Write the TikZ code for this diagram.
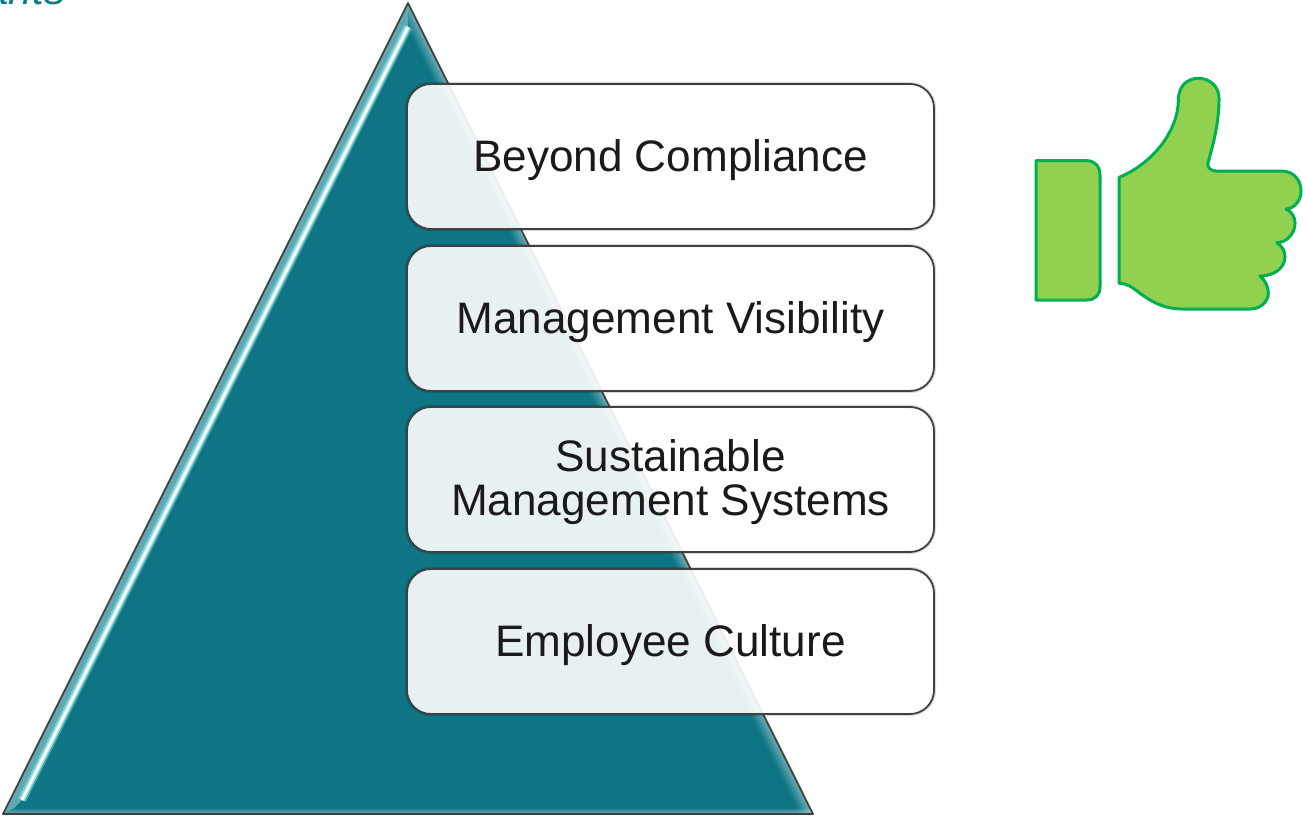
\documentclass[tikz,border=0pt]{standalone}
\usepackage{fontspec}
\setmainfont{Liberation Sans}
\definecolor{pyrteal}{HTML}{0E7585}
\definecolor{pyrband}{HTML}{5FA9B4}
\definecolor{pyrglow}{HTML}{A5E6EE}
\definecolor{boxline}{HTML}{404040}
\definecolor{boxtext}{HTML}{1A1A1A}
\definecolor{thumbfill}{HTML}{92D050}
\definecolor{thumbline}{HTML}{00B050}
\definecolor{cornertext}{HTML}{0E7C86}
\tikzset{
  levelbox/.style={rectangle,draw=boxline,line width=1pt,fill=white,fill opacity=0.9,
    text opacity=1,text=boxtext,rounded corners=0.48cm,minimum width=10.54cm,minimum height=2.9cm,
    align=center,font=\fontsize{25.1}{25}\selectfont,
    execute at begin node={\rule{0pt}{22.2pt}},
    preaction={draw=black,draw opacity=0.15,line width=2.4pt}},
  thumbpart/.style={draw=thumbline,fill=thumbfill,line width=1.7pt,line join=round}
}
\begin{document}
\begin{tikzpicture}
      \useasboundingbox (0,0) rectangle (26.06,-16.34);

      % clipped word in the corner
      \begin{scope}
      \clip (0,0) rectangle (26.06,-16.34);
      \node[anchor=base east,inner sep=0pt,text=cornertext,font=\fontsize{24}{24}\selectfont\itshape] (corner) at (1.31,-0.1){ants};
      \end{scope}

      % pyramid
      \coordinate (top) at (8.16,-0.06);
      \coordinate (left) at (0.06,-16.28);
      \coordinate (right) at (16.26,-16.28);
      \fill[pyrteal] (top) -- (left) -- (right) -- cycle;
      \begin{scope}
      \clip (top) -- (left) -- (right) -- cycle;
      \draw[white,opacity=0.06,line width=0.44cm] (top) -- (right);
      \draw[white,opacity=0.07,line width=0.36cm] (top) -- (right);
      \draw[white,opacity=0.08,line width=0.28cm] (top) -- (right);
      \draw[white,opacity=0.09,line width=0.20cm] (top) -- (right);
      \draw[white,opacity=0.10,line width=0.12cm] (top) -- (right);
      \draw[white,opacity=0.15,line width=0.20cm] (left) -- (right);
      \draw[white,opacity=0.15,line width=0.12cm] (left) -- (right);
      \fill[pyrband] (top) -- (8.16,-0.54) -- (0.44,-16.0) -- (0.28,-16.16) -- (left) -- cycle;
      \draw[pyrglow,opacity=0.45,line width=0.17cm] (8.16,-0.54) -- (0.44,-16.0);
      \draw[pyrglow,line width=0.10cm] (8.16,-0.54) -- (0.44,-16.0);
      \draw[white,line width=0.045cm] (8.16,-0.54) -- (0.44,-16.0);
      \end{scope}
      \draw[boxline,line width=1pt,line join=round] (top) -- (left) -- (right) -- cycle;

      % boxes
      \node[levelbox] (beyond) at (13.41,-3.13){Beyond Compliance};
      \node[levelbox] (visibility) at (13.41,-6.37){Management Visibility};
      \node[levelbox] (systems) at (13.41,-9.59){\\[-3.4pt]Sustainable\\Management Systems};
      \node[levelbox] (culture) at (13.41,-12.83){Employee Culture};

      % thumb
      \begin{scope}[shift={(20.4,-1.2)},x=0.006667cm,y=-0.006667cm]
      \draw[thumbpart] (48,302) -- (200,302) .. controls (225,302) and (240,320) .. (240,345)
        -- (240,680) .. controls (240,705) and (225,720) .. (200,720) -- (48,720) -- cycle;
      \draw[thumbpart] (297,352) .. controls (400,310) and (475,210) .. (475,120)
        .. controls (475,80) and (500,55) .. (535,55)
        .. controls (570,55) and (597,80) .. (597,115)
        .. controls (597,190) and (580,250) .. (565,305)
        .. controls (558,320) and (570,333) .. (590,333)
        -- (785,333) .. controls (820,333) and (843,360) .. (843,393)
        .. controls (843,420) and (825,445) .. (798,447)
        .. controls (815,455) and (825,470) .. (825,490)
        .. controls (825,520) and (800,548) .. (770,548)
        .. controls (785,557) and (795,572) .. (795,590)
        .. controls (795,625) and (760,648) .. (720,648)
        .. controls (735,660) and (745,680) .. (745,700)
        .. controls (745,725) and (720,747) .. (690,747)
        -- (490,747) .. controls (430,747) and (395,725) .. (360,700)
        .. controls (335,680) and (320,670) .. (297,670) -- cycle;
      \end{scope}
\end{tikzpicture}
\end{document}
